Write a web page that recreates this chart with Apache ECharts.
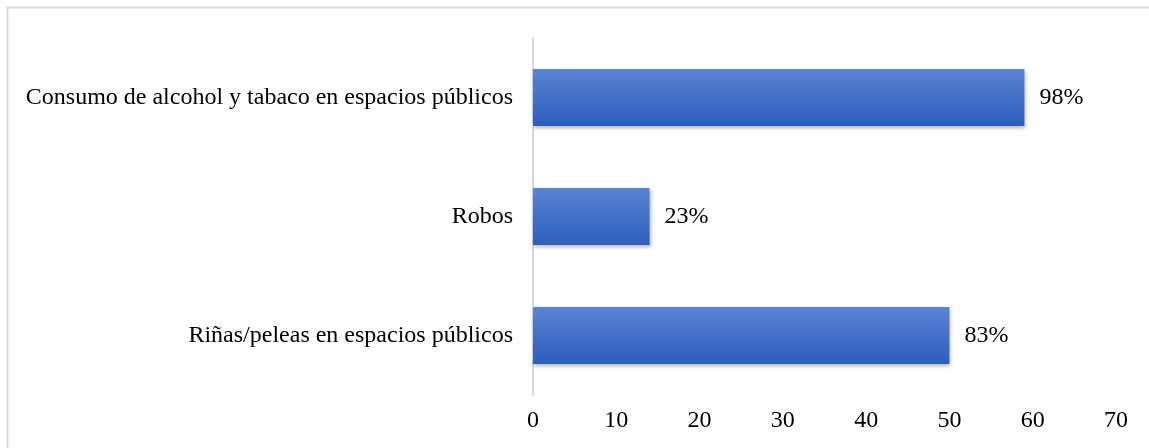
<!DOCTYPE html>
<html lang="es">
<head>
    <meta charset="UTF-8">
    <title>Problemas</title>
    <style>
        html, body { margin: 0; padding: 0; background: #fff; }
    </style>
</head>
<body>
    <div id="main" style="width:1149px; height:448px;"></div>
    <script src="https://cdn.jsdelivr.net/npm/echarts@6/dist/echarts.min.js"></script>
    <script>
        // datos (de abajo hacia arriba, como en el eje de categorías)
        var categorias = ['Riñas/peleas en espacios públicos', 'Robos', 'Consumo de alcohol y tabaco en espacios públicos'];
        var valores = [50, 14, 59];
        var etiquetas = ['83%', '23%', '98%'];
        var ticks = [0, 10, 20, 30, 40, 50, 60, 70];

        var fuente = '"Liberation Serif", "Times New Roman", serif';
        var myChart = echarts.init(document.getElementById('main'));

        myChart.setOption({
            animation: false,
            textStyle: { fontFamily: fuente },
            graphic: [{
                type: 'rect',
                shape: { x: 7.5, y: 7.5, width: 1300, height: 600 },
                style: { fill: 'none', stroke: '#d9d9d9', lineWidth: 2 },
                silent: true
            }],
            grid: { left: 533, right: 33, top: 38, bottom: 53 },
            xAxis: {
                type: 'value',
                min: ticks[0],
                max: ticks[ticks.length - 1],
                interval: 10,
                axisLine: { show: false },
                axisTick: { show: false },
                splitLine: { show: false },
                axisLabel: { color: '#000', fontSize: 24, fontFamily: fuente, margin: 14 }
            },
            yAxis: {
                type: 'category',
                data: categorias,
                axisLine: { show: true, lineStyle: { color: '#d9d9d9', width: 2 } },
                axisTick: { show: false },
                axisLabel: { color: '#000', fontSize: 24, fontFamily: fuente, margin: 20 }
            },
            series: [{
                type: 'bar',
                data: valores,
                barCategoryGap: '52%',
                itemStyle: {
                    color: new echarts.graphic.LinearGradient(0, 0, 0, 1, [
                        { offset: 0, color: '#5b84d3' },
                        { offset: 1, color: '#2c5ebd' }
                    ]),
                    shadowColor: 'rgba(0,0,0,0.3)',
                    shadowBlur: 4,
                    shadowOffsetX: 1,
                    shadowOffsetY: 2
                },
                label: {
                    show: true,
                    position: 'right',
                    distance: 15,
                    color: '#000',
                    fontSize: 24,
                    fontFamily: fuente,
                    formatter: function (p) { return etiquetas[p.dataIndex]; }
                }
            }]
        });
    </script>
</body>
</html>
